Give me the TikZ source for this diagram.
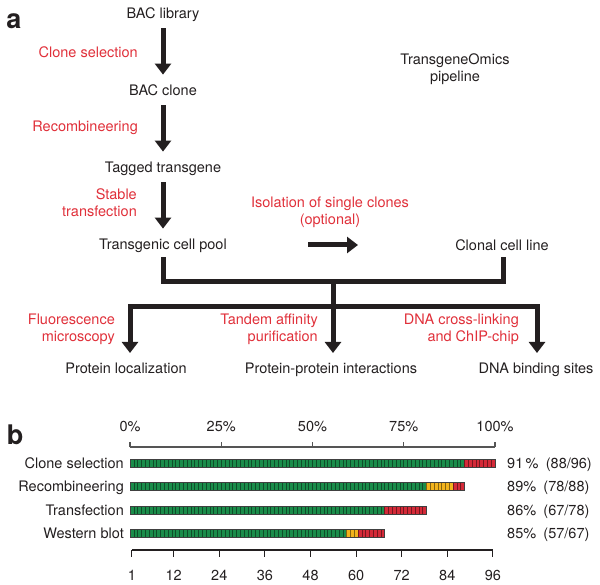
\documentclass[tikz,border=0pt]{standalone}
\usepackage{fontspec}
\setmainfont{TeX Gyre Heros}
\usepackage{tikz}
\usetikzlibrary{arrows.meta,positioning,calc}
\definecolor{InkBlack}{HTML}{231F20}
\definecolor{StepRed}{HTML}{E0303A}
\definecolor{AxisGray}{HTML}{555555}
\definecolor{SegGreen}{HTML}{1A8C4A}
\definecolor{SegYellow}{HTML}{F2B31C}
\definecolor{SegRed}{HTML}{D42A38}

\begin{document}
\begin{tikzpicture}[x=1pt, y=-1pt,
    every node/.style={font=\fontsize{14.5}{17}\selectfont, text=InkBlack},
    stage/.style={inner sep=0pt, text height=10.4pt, text depth=0pt},
    method/.style={inner sep=0pt, text=StepRed, align=right, anchor=east},
    panel/.style={font=\fontsize{27}{30}\selectfont\bfseries},
    trunk/.style={draw=InkBlack, line width=5pt},
    bigarr/.style={trunk, -{Triangle[width=16pt, length=11pt]}},
    flow/.style={bigarr, shorten <=10pt, shorten >=10pt},
    seg/.style={line width=0.6pt},
    barframe/.style={draw=black!75, line width=0.6pt},
    axis/.style={draw=AxisGray, line width=1.1pt}
  ]
    \useasboundingbox (0,0) rectangle (600,585);

    % panel a: pipeline
    \node[panel] (pa) at (14,21) {a};
    \node[stage] (lib) at (163,13) {BAC library};
    \node[stage] (bclone) at (163,90) {BAC clone};
    \node[stage] (tag) at (163,167) {Tagged transgene};
    \node[stage] (pool) at (163,244) {Transgenic cell pool};
    \node[stage] (clonal) at (502,245) {Clonal cell line};
    \node[align=center, inner sep=0pt] (title) at (455,69) {TransgeneOmics\\pipeline};

    \node[method] (sel) at (138,52) {Clone selection};
    \node[method] (recomb) at (138,128) {Recombineering};
    \node[method] (stab) at (137,203) {Stable\\transfection};
    \node[method, anchor=center, align=center] (iso) at (330,212.5) {Isolation of single clones\\(optional)};

    \draw[flow] (lib) -- (bclone);
    \draw[flow] (bclone) -- (tag);
    \draw[flow] (tag) -- (pool);

    \coordinate (isoA) at (308,245);
    \coordinate (isoB) at (358,245);
    \draw[bigarr] (isoA) -- (isoB);

    \coordinate (poolfoot) at ($(pool.south)+(0,8)$);
    \coordinate (clonalfoot) at ($(clonal.south)+(1,7)$);
    \coordinate (merge) at (333,282);
    \coordinate (split) at (333,307);
    \draw[trunk] (poolfoot) |- (merge) -| (clonalfoot);
    \draw[trunk] (merge) -- (split);

    \node[stage] (loc) at (126,368) {Protein localization};
    \node[stage] (ppi) at (331,368) {Protein-protein interactions};
    \node[stage] (dna) at (536,368) {DNA binding sites};
    \coordinate (tipL) at (130,353);
    \coordinate (tipM) at (333,353);
    \coordinate (tipR) at (537,353);
    \draw[bigarr] (split) -| (tipL);
    \draw[bigarr] (split) -| (tipR);
    \draw[bigarr] (split) -- (tipM);

    \node[method] (fluo) at (115,329.5) {Fluorescence\\microscopy};
    \node[method] (tap) at (318,329.5) {Tandem affinity\\purification};
    \node[method] (chip) at (519,329.5) {DNA cross-linking\\and ChIP-chip};

    % panel b: success per step
    \node[panel] (pb) at (15,435) {b};

    \draw[axis] (130,447) -- (495,447);
    \foreach \p in {0,25,50,75,100} {
      \draw[axis] ({130+3.65*\p},447) -- ++(0,-5);
      \node[stage] (pct\p) at ({130+3.65*\p},426) {\p\%};
    }

    \foreach \yy/\ng/\ny/\nr in {463/88/0/8, 486.5/78/7/3, 510/67/0/11, 533.5/57/3/7} {
      \pgfmathtruncatemacro{\ntot}{\ng+\ny+\nr}
      \pgfmathtruncatemacro{\nlim}{\ng+\ny}
      \foreach \i in {1,...,\ntot} {
        \ifnum\i>\nlim\relax \def\segcol{SegRed}%
        \else\ifnum\i>\ng\relax \def\segcol{SegYellow}%
        \else \def\segcol{SegGreen}\fi\fi
        \filldraw[seg, fill=\segcol, draw=\segcol!55!black] ({130+3.8*(\i-1)},\yy-4) rectangle ++(3.8,8);
      }
      \draw[barframe] (130,\yy-4) rectangle ({130+3.8*\ntot},\yy+4);
    }

    \node[stage, anchor=east] (rsel) at (124,463) {Clone selection};
    \node[stage, anchor=east] (rrec) at (124,486.5) {Recombineering};
    \node[stage, anchor=east] (rtra) at (124,510) {Transfection};
    \node[stage, anchor=east] (rwes) at (124,533.5) {Western blot};

    \node[stage, anchor=west] (qsel) at (507,463) {91\,\%\enspace(88/96)};
    \node[stage, anchor=west] (qrec) at (507,486.5) {89\%\enspace(78/88)};
    \node[stage, anchor=west] (qtra) at (507,510) {86\%\enspace(67/78)};
    \node[stage, anchor=west] (qwes) at (507,533.5) {85\%\enspace(57/67)};

    \draw[axis, draw=InkBlack] (131.9,550) -- (493.1,550);
    \foreach \n in {1,12,24,36,48,60,72,84,96} {
      \draw[axis, draw=InkBlack] ({130+3.8*(\n-0.5)},550) -- ++(0,7);
      \node[stage] (cnt\n) at ({130+3.8*(\n-0.5)},575) {\n};
    }
\end{tikzpicture}
\end{document}
